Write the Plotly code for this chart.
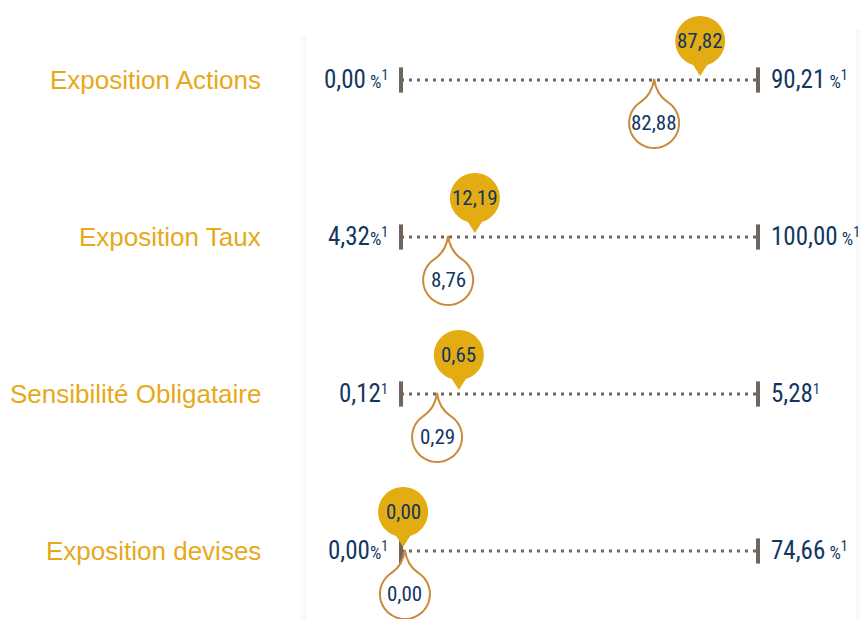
import math
import plotly.graph_objects as go

# ---------------- data ----------------
categories = ["Exposition Actions", "Exposition Taux", "Sensibilité Obligataire", "Exposition devises"]
min_labels = ["0,00", "4,32", "0,12", "0,00"]
min_units = [" %", "%", "", "%"]
max_labels = ["90,21", "100,00", "5,28", "74,66"]
max_units = [" %", " %", "", " %"]
fund_labels = ["87,82", "12,19", "0,65", "0,00"]     # yellow bubbles
bench_labels = ["82,88", "8,76", "0,29", "0,00"]     # outlined bubbles
# pointer positions along each gauge (0-100)
fund_pos = [83.8, 20.7, 16.2, 0.6]
bench_pos = [70.9, 13.2, 10.1, 1.1]

# ---------------- style ----------------
W, H = 863, 619
X0PX, X1PX = 401, 758
ROW0PX, ROWSTEP = 80, 157
YELLOW = "#E3AC13"
LABEL_YELLOW = "#E6A91A"
BLUE = "#12375F"
ORANGE = "#C98A3A"
LINE = "#6E655C"
NARROW = "Liberation Sans Narrow, Roboto Condensed, Arial Narrow, Roboto, sans-serif"
SANS = "Liberation Sans, Arial, Helvetica, sans-serif"

scale = (X1PX - X0PX) / 100.0
xrange_ = [-X0PX / scale, (W - X0PX) / scale]
yrange_ = [(H - ROW0PX) / ROWSTEP, -ROW0PX / ROWSTEP]

rows = list(range(len(categories)))


def fmt(v):
    return f"{v:.2f}"


def arc(cx, cy, r, a0, a1, n=48):
    pts = []
    for k in range(n + 1):
        a = math.radians(a0 + (a1 - a0) * k / n)
        pts.append((cx + r * math.cos(a), cy + r * math.sin(a)))
    return pts


def yellow_path():
    cy, r, hw, tip = 39, 25, 7, 4
    yj = cy - math.sqrt(r * r - hw * hw)
    ar = math.degrees(math.atan2(yj - cy, hw))
    al = math.degrees(math.atan2(yj - cy, -hw)) + 360
    pts = arc(0, cy, r, ar, al)
    s = f"M 0 {tip} L {fmt(hw)} {fmt(yj)} "
    s += " ".join(f"L {fmt(x)} {fmt(y)}" for x, y in pts)
    s += f" L {fmt(-hw)} {fmt(yj)} Z"
    return s


def bench_path():
    cy, r, hw, tip = -43, 25, 13, 1
    yj = cy + math.sqrt(r * r - hw * hw)
    al = math.degrees(math.atan2(yj - cy, -hw))
    ar = math.degrees(math.atan2(yj - cy, hw)) + 360
    pts = arc(0, cy, r, al, ar)
    s = f"M 0 {tip} Q -2 -14 {fmt(-hw)} {fmt(yj)} "
    s += " ".join(f"L {fmt(x)} {fmt(y)}" for x, y in pts)
    s += f" Q 2 -14 0 {tip} Z"
    return s


fig = go.Figure()

# dotted gauge lines
for i in rows:
    fig.add_trace(go.Scatter(
        x=[0, 100], y=[i, i], mode="lines",
        line=dict(color=LINE, width=3, dash="3px,5px"),
        hoverinfo="skip", showlegend=False))

# end ticks
fig.add_trace(go.Scatter(
    x=[0] * len(rows) + [100] * len(rows), y=rows + rows, mode="markers",
    marker=dict(symbol="line-ns", size=18, line=dict(color=LINE, width=4)),
    hoverinfo="skip", showlegend=False))

shapes = []
# faint card shadow
for k, a in enumerate([0.012, 0.02, 0.03]):
    shapes.append(dict(type="rect", xref="paper", yref="paper", layer="below",
                       x0=(300 + 2 * k) / W, x1=(302 + 2 * k) / W, y0=0, y1=1 - 35 / H,
                       fillcolor=f"rgba(0,0,0,{a})", line=dict(width=0)))
for k, a in enumerate([0.03, 0.02, 0.012]):
    shapes.append(dict(type="rect", xref="paper", yref="paper", layer="below",
                       x0=(856 + 2 * k) / W, x1=(858 + 2 * k) / W, y0=0, y1=1 - 30 / H,
                       fillcolor=f"rgba(0,0,0,{a})", line=dict(width=0)))

yp = yellow_path()
bp = bench_path()
for i in rows:
    shapes.append(dict(type="path", xref="x", yref="y", xsizemode="pixel", ysizemode="pixel",
                       xanchor=bench_pos[i], yanchor=i, path=bp,
                       fillcolor="white", line=dict(color=ORANGE, width=2), layer="above"))
    shapes.append(dict(type="path", xref="x", yref="y", xsizemode="pixel", ysizemode="pixel",
                       xanchor=fund_pos[i], yanchor=i, path=yp,
                       fillcolor=YELLOW, line=dict(width=0), layer="above"))

annotations = []
for i in rows:
    annotations.append(dict(x=0, y=i, xref="x", yref="y", xshift=-(X0PX - 263), showarrow=False,
                            xanchor="right", yanchor="middle", text=categories[i],
                            font=dict(family=SANS, size=26, color=LABEL_YELLOW)))
    mu = min_units[i]
    ltxt = min_labels[i] + (f"<span style='font-size:18px'>{mu}</span>" if mu else "") + \
        "<span style='font-size:20px'><sup>1</sup></span>"
    annotations.append(dict(x=0, y=i, xref="x", yref="y", xshift=-11, yshift=1, showarrow=False,
                            xanchor="right", yanchor="middle", text=ltxt,
                            font=dict(family=NARROW, size=25, color=BLUE)))
    xu = max_units[i]
    rtxt = max_labels[i] + (f"<span style='font-size:18px'>{xu}</span>" if xu else "") + \
        "<span style='font-size:20px'><sup>1</sup></span>"
    annotations.append(dict(x=100, y=i, xref="x", yref="y", xshift=11, yshift=1, showarrow=False,
                            xanchor="left", yanchor="middle", text=rtxt,
                            font=dict(family=NARROW, size=25, color=BLUE)))
    annotations.append(dict(x=fund_pos[i], y=i, xref="x", yref="y", yshift=39, showarrow=False,
                            xanchor="center", yanchor="middle", text=fund_labels[i],
                            font=dict(family=NARROW, size=21, color=BLUE)))
    annotations.append(dict(x=bench_pos[i], y=i, xref="x", yref="y", yshift=-43, showarrow=False,
                            xanchor="center", yanchor="middle", text=bench_labels[i],
                            font=dict(family=NARROW, size=21, color=BLUE)))

fig.update_layout(
    width=W, height=H, autosize=False,
    margin=dict(l=0, r=0, t=0, b=0),
    paper_bgcolor="white", plot_bgcolor="white",
    xaxis=dict(range=xrange_, visible=False, fixedrange=True),
    yaxis=dict(range=yrange_, visible=False, fixedrange=True),
    shapes=shapes, annotations=annotations, showlegend=False,
)

fig.write_html("out.html")
